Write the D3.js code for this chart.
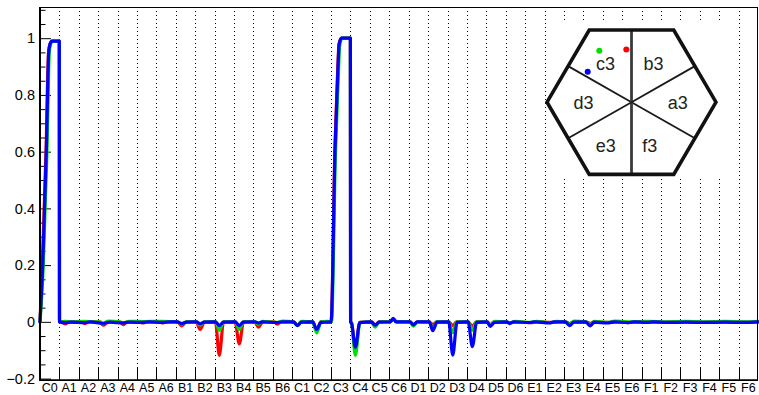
<!DOCTYPE html>
<html><head><meta charset="utf-8">
<script src="https://cdn.jsdelivr.net/npm/d3@7"></script>
<style>body{margin:0;background:#fff}svg{display:block}text{font-family:"Liberation Sans",Arial,Helvetica,sans-serif}</style>
</head><body><svg id="c" width="759" height="395"></svg>
<script>
const categories=["C0","A1","A2","A3","A4","A5","A6","B1","B2","B3","B4","B5","B6","C1","C2","C3","C4","C5","C6","D1","D2","D3","D4","D5","D6","E1","E2","E3","E4","E5","E6","F1","F2","F3","F4","F5","F6"];
const yMajorTicks=[-0.2,0,0.2,0.4,0.6,0.8,1];
const yMinorTicks=[-0.15,-0.1,-0.05,0.05,0.1,0.15,0.25,0.3,0.35,0.45,0.5,0.55,0.65,0.7,0.75,0.85,0.9,0.95,1.05,1.1];
// [position in bins, value]
const redSeries=[[0,0],[0.12,0.2],[0.31,0.6],[0.44,0.95],[0.52,0.98],[0.62,0.99],[0.995,0.99],[1.005,0],
[1.1,0],[1.29,-0.007],[1.5,0],[2.1,0],[2.32,-0.006],[2.5,0],[3.08,0],[3.26,-0.012],[3.5,0],[4.1,0],[4.3,-0.01],[4.5,0],[5.1,0],[5.3,-0.004],[5.5,0],[6.1,0],[6.35,-0.004],[6.5,0],
[7.08,0],[7.3,-0.014],[7.55,0],[8.05,0],[8.25,-0.027],[8.48,0],[9.04,0],[9.24,-0.118],[9.46,0],[10.05,0],[10.27,-0.078],[10.49,0],
[11.06,0],[11.26,-0.019],[11.48,0],[12.08,0],[12.22,-0.008],[12.42,0],[13.06,0],[13.27,-0.012],[13.47,0],[14.06,0],[14.26,-0.03],[14.47,0],
[15.0,0],[15.2,0.62],[15.31,0.83],[15.41,0.98],[15.53,1.0],[15.995,1.0],[16.005,0],
[16.06,-0.005],[16.25,-0.1],[16.48,-0.002],[17.08,0],[17.27,-0.012],[17.47,0],[18.05,0],[18.2,0.01],[18.35,0],
[19.07,0],[19.24,-0.01],[19.44,0],[20.06,0],[20.24,-0.01],[20.44,0],[21.06,0],[21.27,-0.013],[21.48,0],[22.06,0],[22.28,-0.016],[22.49,0],
[23.05,0],[23.2,-0.01],[23.4,0],[24.2,-0.003],[24.5,0],[25.3,-0.003],[25.6,0.001],[26.3,-0.002],[26.8,0],[27.08,0],[27.3,-0.006],[27.5,0],[28.12,0],[28.35,-0.005],[28.55,0],
[29.3,-0.002],[29.8,0],[30.3,-0.003],[30.8,0],[31.3,0],[32.3,-0.002],[32.8,0],[33.3,0],[34.3,-0.002],[34.8,0],[35.3,0],[36.3,-0.002],[37,0]];
const greenSeries=[[0,0],[0.17,0.2],[0.36,0.6],[0.48,0.95],[0.55,0.98],[0.65,0.99],[0.995,0.99],[1.005,0],
[1.3,0.002],[1.6,0],[2.3,0.002],[2.8,0],[3.08,0],[3.25,-0.006],[3.5,0.003],[4.1,0],[4.3,-0.003],[4.6,0.002],[5.3,0.001],[6.3,0.002],[7.08,0],[7.3,-0.008],[7.55,0],
[8.06,0],[8.25,-0.012],[8.47,0],[9.05,0],[9.24,-0.03],[9.46,0],[10.06,0],[10.27,-0.027],[10.48,0],[11.08,0],[11.26,-0.008],[11.47,0.002],
[12.2,-0.002],[12.5,0.003],[13.06,0],[13.27,-0.013],[13.47,0.002],[14.05,0],[14.26,-0.039],[14.48,0],[14.8,0.002],
[15.02,0],[15.23,0.6],[15.35,0.82],[15.45,0.975],[15.57,1.0],[15.995,1.0],[16.005,0],
[16.06,-0.006],[16.25,-0.118],[16.49,-0.003],[17.07,0],[17.27,-0.019],[17.48,0],[18.05,0],[18.2,0.01],[18.35,0.002],
[19.06,0],[19.24,-0.015],[19.45,0],[20.06,0],[20.24,-0.026],[20.45,0],[21.06,0],[21.27,-0.038],[21.48,0],[22.06,0],[22.28,-0.03],[22.49,0],
[23.05,0],[23.2,-0.012],[23.42,0.002],[24.05,0],[24.2,-0.004],[24.5,0.002],[25.2,-0.002],[25.6,0.002],[26.3,-0.003],[26.6,0.002],
[27.08,0],[27.3,-0.009],[27.52,0.003],[28.12,0],[28.35,-0.01],[28.57,0.002],[29.3,-0.002],[29.6,0.003],[30.3,0],[31.3,0.002],[32.3,0],[33.3,0.002],[34.3,0],[35.3,0.002],[36.3,0],[37,0.002]];
const blueSeries=[[0,0],[0.14,0.2],[0.325,0.6],[0.45,0.95],[0.52,0.98],[0.62,0.99],[0.995,0.99],[1.005,0],
[1.3,-0.003],[1.6,-0.001],[2.3,-0.003],[2.6,0],[3.25,-0.005],[3.6,-0.001],[4.3,-0.004],[4.6,-0.001],[5.3,-0.002],[5.6,0],[6.3,-0.002],[6.7,0],
[7.07,0],[7.3,-0.006],[7.55,-0.001],[8.06,0],[8.25,-0.007],[8.47,-0.001],[9.05,0],[9.24,-0.013],[9.46,-0.001],[10.06,0],[10.27,-0.013],[10.48,-0.001],
[11.08,0],[11.25,-0.004],[11.47,0],[12.2,-0.003],[12.5,0],[13.06,0],[13.27,-0.013],[13.48,-0.001],[14.05,0],[14.26,-0.027],[14.48,-0.002],[14.8,-0.001],
[15.0,0],[15.21,0.62],[15.32,0.83],[15.42,0.98],[15.54,1.0],[15.995,1.0],[16.005,0],
[16.06,-0.006],[16.25,-0.09],[16.48,-0.003],[17.07,0],[17.27,-0.012],[17.48,-0.001],[18.05,0],[18.2,0.012],[18.35,0],
[19.07,0],[19.24,-0.011],[19.45,0],[20.06,0],[20.24,-0.031],[20.46,-0.001],[21.06,0],[21.27,-0.117],[21.49,-0.002],[22.06,0],[22.28,-0.087],[22.5,-0.002],
[23.04,0],[23.2,-0.016],[23.43,-0.002],[24.06,0],[24.2,-0.006],[24.42,0],[25.2,-0.003],[25.5,0],[26.25,-0.004],[26.5,0],
[27.06,0],[27.3,-0.013],[27.52,-0.001],[28.12,0],[28.35,-0.014],[28.57,-0.001],[29.25,-0.004],[29.6,0],[30.3,-0.003],[30.6,0],
[31.3,-0.002],[31.6,0],[32.3,-0.002],[33.3,-0.001],[34.3,-0.002],[35.3,-0.001],[36.3,-0.002],[37,0]];
const cellLabels=["a3","b3","c3","d3","e3","f3"];

const svg=d3.select("#c");
svg.append("rect").attr("width",759).attr("height",395).attr("fill","#fff");
const L=40,R=758,T=7,B=380;
const x=d3.scaleLinear().domain([0,categories.length]).range([L,R]);
const xb=d3.scaleBand().domain(categories).range([L,R]);
const y=d3.scaleLinear().domain([-0.205,1.11]).range([B,T]);

// grid
svg.append("g").selectAll("line").data(d3.range(1,categories.length)).join("line")
 .attr("x1",d=>Math.round(x(d))+0.5).attr("x2",d=>Math.round(x(d))+0.5).attr("y1",T).attr("y2",B)
 .attr("stroke","#000").attr("stroke-width",1).attr("stroke-dasharray","1,3");

// inset background
svg.append("rect").attr("x",546).attr("y",22).attr("width",174).attr("height",156).attr("fill","#fff");

// x ticks at bin edges
svg.append("g").selectAll("line").data(d3.range(1,categories.length)).join("line")
 .attr("x1",d=>Math.round(x(d))+0.5).attr("x2",d=>Math.round(x(d))+0.5).attr("y1",B).attr("y2",B-12)
 .attr("stroke","#000").attr("stroke-width",1);
// x labels
const gx=svg.append("g").attr("transform",`translate(0,${B})`).call(d3.axisBottom(xb).tickSize(0).tickPadding(3));
gx.select(".domain").remove();
gx.selectAll("text").attr("font-size","12.5px").attr("fill","#000").attr("font-family","Liberation Sans, Arial, sans-serif");

// y axis
const gy=svg.append("g").attr("transform",`translate(${L},0)`).call(d3.axisLeft(y).tickValues(yMajorTicks).tickSize(-11).tickPadding(5).tickFormat(d3.format("~g")));
gy.select(".domain").remove();
gy.selectAll("line").attr("stroke","#000");
gy.selectAll("text").attr("font-size","14.5px").attr("fill","#000").attr("font-family","Liberation Sans, Arial, sans-serif");
const gym=svg.append("g").attr("transform",`translate(${L},0)`).call(d3.axisLeft(y).tickValues(yMinorTicks).tickSize(-5.5).tickFormat(""));
gym.select(".domain").remove();
gym.selectAll("line").attr("stroke","#000");

// lines
const line=d3.line().x(d=>x(d[0])).y(d=>y(d[1])).curve(d3.curveMonotoneX);
[[redSeries,"#ff0000"],[greenSeries,"#00e000"],[blueSeries,"#0000ff"]].forEach(([s,c])=>{
 svg.append("path").datum(s).attr("d",line).attr("fill","none").attr("stroke",c).attr("stroke-width",3.2).attr("stroke-linejoin","round").attr("stroke-linecap","round");
});

// frame
svg.append("rect").attr("x",L+0.5).attr("y",T+0.5).attr("width",R-L-1).attr("height",B-T).attr("fill","none").attr("stroke","#000").attr("stroke-width",1);
svg.append("line").attr("x1",L).attr("x2",L).attr("y1",T).attr("y2",B+1).attr("stroke","#000").attr("stroke-width",2);
svg.append("line").attr("x1",L).attr("x2",R).attr("y1",B).attr("y2",B).attr("stroke","#000").attr("stroke-width",1.5);

// hexagon inset
const cx=631.5,cy=102.2,Rh=84.5,hh=72.2;
const hexPts=[[cx+Rh,cy],[cx+Rh/2,cy+hh],[cx-Rh/2,cy+hh],[cx-Rh,cy],[cx-Rh/2,cy-hh],[cx+Rh/2,cy-hh]];
const mids=hexPts.map((p,i)=>{const q=hexPts[(i+1)%6];return[(p[0]+q[0])/2,(p[1]+q[1])/2];});
const hex=svg.append("g");
mids.forEach((m,i)=>{
 const vert=Math.abs(m[0]-cx)<1;
 hex.append("line").attr("x1",cx).attr("y1",cy).attr("x2",m[0]).attr("y2",m[1])
  .attr("stroke",vert?"#3a3a3a":"#1a1a1a").attr("stroke-width",vert?2.8:1.8);
});
hex.append("polygon").attr("points",hexPts.map(p=>p.join(",")).join(" ")).attr("fill","none").attr("stroke","#111").attr("stroke-width",3.6).attr("stroke-linejoin","miter");
const labelPos={a3:[677.7,108.5],b3:[653.5,69.5],c3:[605.5,69.5],d3:[583.5,108.5],e3:[605.8,152],f3:[649.7,152]};
cellLabels.forEach(k=>{
 hex.append("text").attr("x",labelPos[k][0]).attr("y",labelPos[k][1]).attr("text-anchor","middle").attr("font-size","18px").attr("fill","#222").text(k);
});
const dots=[[599.3,50.7,"#00e000"],[626.3,49.5,"#ff0000"],[587.7,71.7,"#0000ff"]];
dots.forEach(d=>hex.append("circle").attr("cx",d[0]).attr("cy",d[1]).attr("r",3).attr("fill",d[2]));
</script></body></html>
